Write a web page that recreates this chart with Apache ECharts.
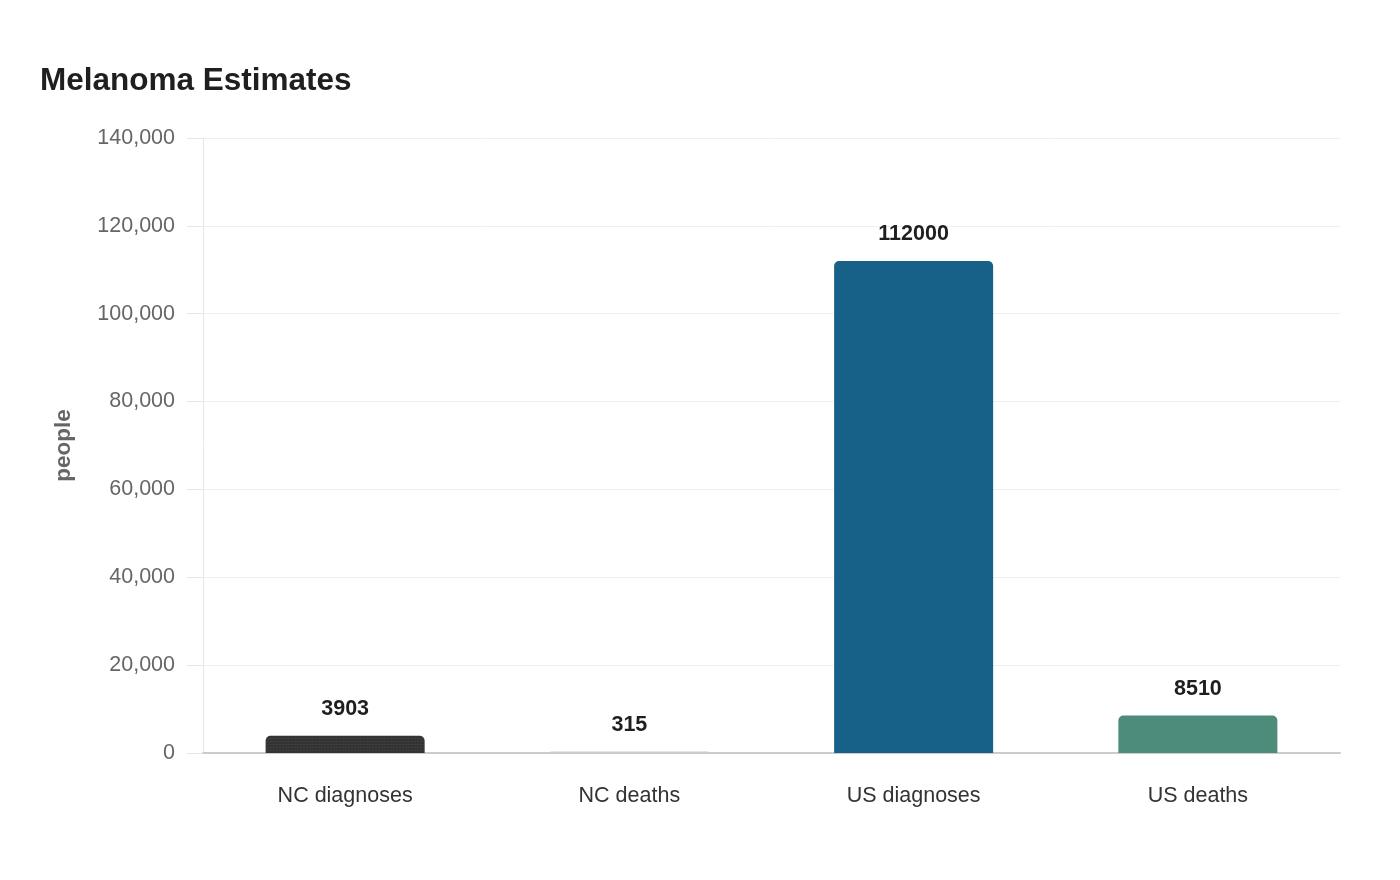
<!DOCTYPE html>
<html>
<head>
<meta charset="utf-8">
<script src="https://cdn.jsdelivr.net/npm/echarts@6/dist/echarts.min.js"></script>
<style>
  html, body { margin: 0; padding: 0; background: #fff; }
  #chart { width: 1400px; height: 880px; }
</style>
</head>
<body>
<div id="chart"></div>
<script>
// categories and values
var categories = ['NC diagnoses', 'NC deaths', 'US diagnoses', 'US deaths'];
var values = [3903, 315, 112000, 8510];
var barColors = ['#333333', '#cccccc', '#176087', '#4d8c7b'];

var chart = echarts.init(document.getElementById('chart'));

var data = [];
for (var i = 0; i < values.length; i++) {
  var item = {
    value: values[i],
    itemStyle: { color: barColors[i] }
  };
  // dark bar has a fine dotted texture
  if (i === 0) {
    item.itemStyle.decal = {
      symbol: 'rect',
      symbolSize: 0.6,
      color: 'rgba(110,110,110,0.7)',
      dashArrayX: [2, 1],
      dashArrayY: [1, 2],
      rotation: 0
    };
  }
  data.push(item);
}

var option = {
  animation: false,
  backgroundColor: '#fff',
  title: {
    text: 'Melanoma Estimates',
    left: 35,
    top: 60,
    textStyle: { fontFamily: 'Liberation Sans, Arial', fontSize: 31.5, fontWeight: 'bold', color: '#1f1f1f' }
  },
  grid: { left: 203, right: 60, top: 138, bottom: 127 },
  xAxis: {
    type: 'category',
    data: categories,
    axisLine: { lineStyle: { color: '#cccccc', width: 2 } },
    axisTick: { show: false },
    axisLabel: { fontFamily: 'Liberation Sans, Arial', fontSize: 21.5, color: '#333', margin: 32 }
  },
  yAxis: {
    type: 'value',
    min: 0,
    max: 140000,
    interval: 20000,
    name: 'people',
    nameLocation: 'middle',
    nameGap: 128,
    nameTextStyle: { fontFamily: 'Liberation Sans, Arial', fontSize: 22.5, fontWeight: 'bold', color: '#666' },
    axisLine: { show: true, lineStyle: { color: '#e6e6e6', width: 1 } },
    axisTick: { show: true, length: 16, lineStyle: { color: '#e6e6e6' } },
    splitLine: { lineStyle: { color: '#efefef', width: 1 } },
    axisLabel: {
      fontFamily: 'Liberation Sans, Arial', fontSize: 21.5, color: '#666', margin: 28,
      padding: [4, 0, 0, 0],
      formatter: function (v) { return v.toLocaleString('en-US'); }
    }
  },
  series: [{
    type: 'bar',
    data: data,
    barWidth: 159,
    itemStyle: { borderRadius: [5, 5, 0, 0] },
    label: {
      show: true,
      position: 'top',
      distance: 16,
      fontFamily: 'Liberation Sans, Arial',
      fontSize: 21.5,
      fontWeight: 'bold',
      color: '#1f1f1f'
    }
  }]
};

chart.setOption(option);
</script>
</body>
</html>
